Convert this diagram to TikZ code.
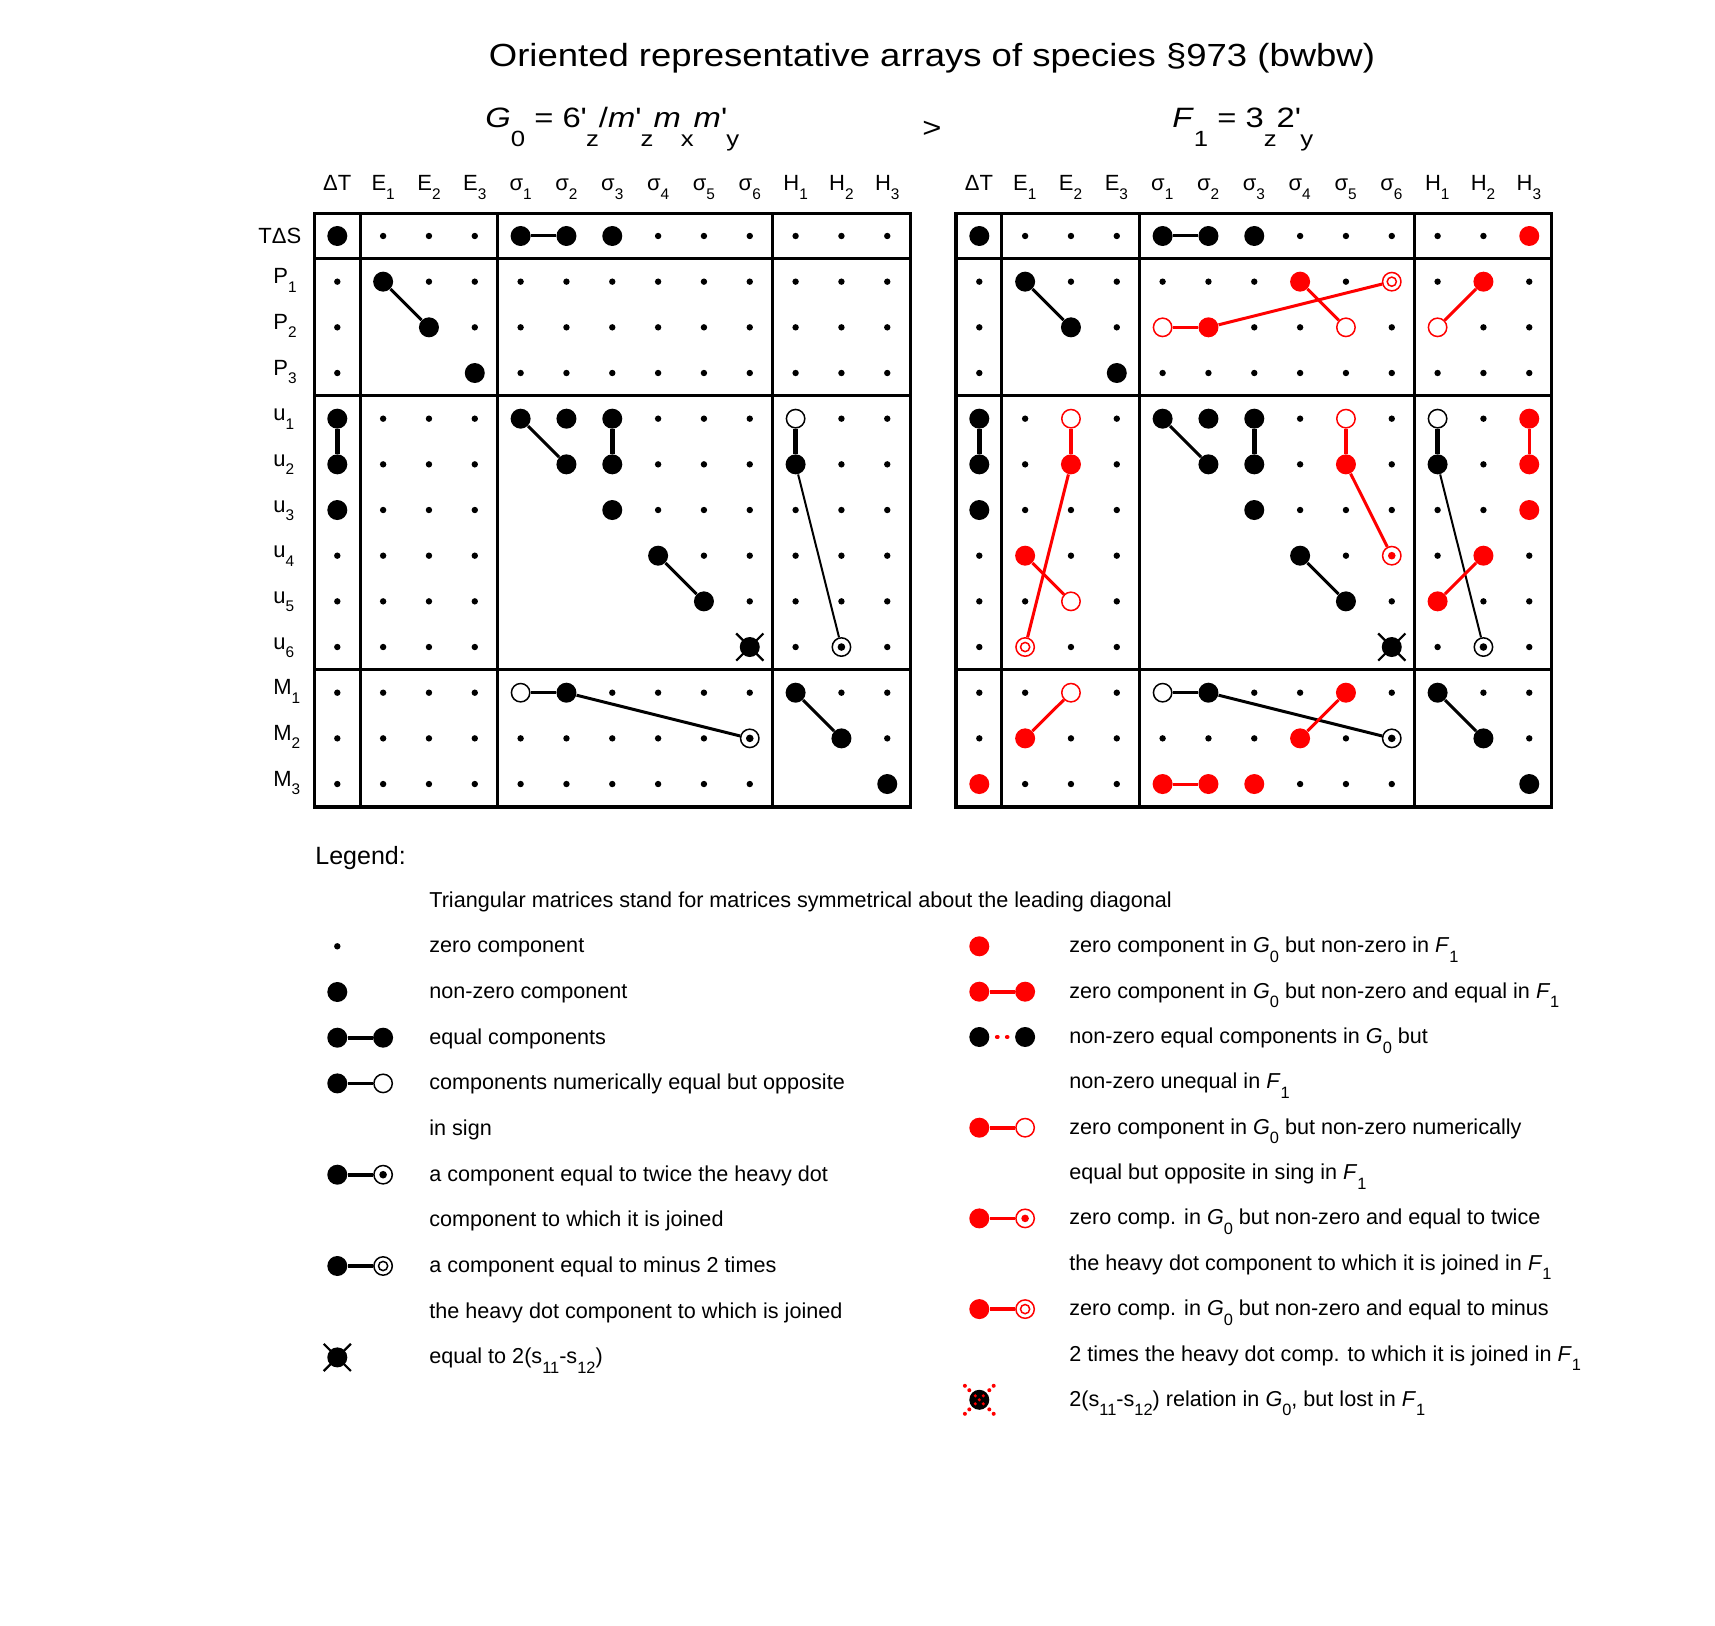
\documentclass[tikz,border=0pt]{standalone}
\usepackage{fontspec}
\setmainfont{Liberation Sans}
\newfontfamily\widefont[FakeStretch=1.14]{Liberation Sans}
\newfontfamily\subfont[FakeStretch=1.17]{Liberation Sans}
\newcommand\prm{{\XeTeXglyph\XeTeXcharglyph"27\relax}}
\newcommand\hsub[1]{\raisebox{-4.3pt}{\fontsize{7.7}{8}\selectfont #1}}
\newcommand\lsub[1]{\raisebox{-4.8pt}{\fontsize{8.2}{9}\selectfont #1}}
\newcommand\tsub[1]{\raisebox{-9.5pt}{\fontsize{11}{12}\selectfont #1}}
\tikzset{
  zd/.style={circle, fill=black, inner sep=0pt, minimum size=3.2pt},
  bd/.style={circle, fill=#1, inner sep=0pt, minimum size=10pt},
  bd/.default=black,
  od/.style={circle, draw=#1, fill=white, line width=0.75pt, inner sep=0pt, minimum size=9.2pt},
  od/.default=black,
  td/.style={od=#1, path picture={\fill[#1] (path picture bounding box.center) circle (1.9pt);}},
  td/.default=black,
  md/.style={od=#1, path picture={\draw[#1, line width=0.75pt] (path picture bounding box.center) circle (2.3pt);}},
  md/.default=black,
  nd/.style={inner sep=0pt, minimum size=10pt},
  mk-z/.style={zd}, mk-n/.style={nd}, mk-B/.style={bd}, mk-O/.style={od},
  mk-T/.style={td}, mk-X/.style={bd}, mk-r/.style={bd=red}, mk-q/.style={od=red},
  mk-t/.style={td=red}, mk-m/.style={md=red},
  gridline/.style={line width=1.6pt},
  cn/.style={line width=1.5pt},
  cnv/.style={line width=2.3pt},
  cnr/.style={red, line width=1.5pt},
  cnrv/.style={red, line width=1.7pt},
  cnt/.style={line width=1pt},
  lgl/.style={line width=1.8pt},
  hdr/.style={anchor=base, inner sep=0pt, font=\fontsize{11}{13}\selectfont},
  rlab/.style={anchor=base west, inner sep=0pt, font=\fontsize{11}{13}\selectfont},
  ltxt/.style={anchor=base west, inner sep=0pt, font=\fontsize{10.8}{13}\selectfont},
}
\begin{document}
\begin{tikzpicture}[x=0.5pt, y=-0.5pt]
\fill[white] (0,0) rectangle (1715,1626);
\useasboundingbox (0,0) rectangle (1715,1626);
% titles
\node[anchor=base, inner sep=0pt] (title) at (932,67) {\widefont\fontsize{16}{19}\selectfont Oriented representative arrays of species §973 (bwbw)};
\node[anchor=base west, inner sep=0pt] (g0) at (485,128) {\subfont\fontsize{14}{16}\selectfont \textit{G}\tsub{0} = 6\prm\tsub{z}/\textit{m}\prm\tsub{z}\textit{m}\tsub{x}\textit{m}\prm\tsub{y}};
\node[anchor=base, inner sep=0pt] (gt) at (932,138) {\subfont\fontsize{14}{16}\selectfont >};
\node[anchor=base west, inner sep=0pt] (f1) at (1172,128) {\subfont\fontsize{14}{16}\selectfont \textit{F}\tsub{1} = 3\tsub{z}2\prm\tsub{y}};
% grid frames
\foreach \xo in {314.4, 956.0} {
  \draw[gridline] (\xo,213.2) rectangle ({\xo+595.8},806.9);
  \foreach \k in {1,4,10} \draw[gridline] ({\xo+\k*45.83},213.2) -- ({\xo+\k*45.83},806.9);
  \foreach \y in {258.9,395.9,669.9} \draw[gridline] (\xo,\y) -- ({\xo+595.8},\y);
}
% column headers
\foreach \off in {0,14} {
  \foreach \lab [count=\c from 0] in {ΔT,E\hsub{1},E\hsub{2},E\hsub{3},σ\hsub{1},σ\hsub{2},σ\hsub{3},σ\hsub{4},σ\hsub{5},σ\hsub{6},H\hsub{1},H\hsub{2},H\hsub{3}}
    \node[hdr] (h-\off-\c) at ({337.3+(\off+\c)*45.83},190.7) {\lab};
}
% row labels
\node[anchor=base east, inner sep=0pt, font=\fontsize{11}{13}\selectfont] (rl0) at (301.7,243.5) {TΔS};
\foreach \lab [count=\r from 1] in {P\hsub{1},P\hsub{2},P\hsub{3},u\hsub{1},u\hsub{2},u\hsub{3},u\hsub{4},u\hsub{5},u\hsub{6},M\hsub{1},M\hsub{2},M\hsub{3}}
  \node[rlab] (rl\r) at (273,{238+\r*45.67}) {\lab};
% left grid G0
\foreach \row [count=\r from 0] in {
 {B,z,z,z,B,B,B,z,z,z,z,z,z},
 {z,B,z,z,z,z,z,z,z,z,z,z,z},
 {z,n,B,z,z,z,z,z,z,z,z,z,z},
 {z,n,n,B,z,z,z,z,z,z,z,z,z},
 {B,z,z,z,B,B,B,z,z,z,O,z,z},
 {B,z,z,z,n,B,B,z,z,z,B,z,z},
 {B,z,z,z,n,n,B,z,z,z,z,z,z},
 {z,z,z,z,n,n,n,B,z,z,z,z,z},
 {z,z,z,z,n,n,n,n,B,z,z,z,z},
 {z,z,z,z,n,n,n,n,n,X,z,T,z},
 {z,z,z,z,O,B,z,z,z,z,B,z,z},
 {z,z,z,z,z,z,z,z,z,T,n,B,z},
 {z,z,z,z,z,z,z,z,z,z,n,n,B}} {
  \foreach \code [count=\c from 0] in \row
    \node[mk-\code] (L-\r-\c) at ({337.3+\c*45.83},{236+\r*45.67}) {};
}
% right grid F1
\foreach \row [count=\r from 0] in {
 {B,z,z,z,B,B,B,z,z,z,z,z,r},
 {z,B,z,z,z,z,z,r,z,m,z,r,z},
 {z,n,B,z,q,r,z,z,q,z,q,z,z},
 {z,n,n,B,z,z,z,z,z,z,z,z,z},
 {B,z,q,z,B,B,B,z,q,z,O,z,r},
 {B,z,r,z,n,B,B,z,r,z,B,z,r},
 {B,z,z,z,n,n,B,z,z,z,z,z,r},
 {z,r,z,z,n,n,n,B,z,t,z,r,z},
 {z,z,q,z,n,n,n,n,B,z,r,z,z},
 {z,m,z,z,n,n,n,n,n,X,z,T,z},
 {z,z,q,z,O,B,z,z,r,z,B,z,z},
 {z,r,z,z,z,z,z,r,z,T,n,B,z},
 {r,z,z,z,r,r,r,z,z,z,n,n,B}} {
  \foreach \code [count=\c from 0] in \row
    \node[mk-\code] (R-\r-\c) at ({979.3+\c*45.83},{236+\r*45.67}) {};
}
% connectors left
\draw[cn] (L-0-4) -- (L-0-5);
\draw[cn] (L-1-1) -- (L-2-2);
\draw[cnv] (L-4-0) -- (L-5-0);
\draw[cn] (L-4-4) -- (L-5-5);
\draw[cnv] (L-4-6) -- (L-5-6);
\draw[cnv] (L-4-10) -- (L-5-10);
\draw[cnt] (L-5-10) -- (L-9-11);
\draw[cn] (L-7-7) -- (L-8-8);
\draw[cn] (L-10-4) -- (L-10-5);
\draw[cn] (L-10-5) -- (L-11-9);
\draw[cn] (L-10-10) -- (L-11-11);
% connectors right
\draw[cn] (R-0-4) -- (R-0-5);
\draw[cn] (R-1-1) -- (R-2-2);
\draw[cnr] (R-2-4) -- (R-2-5);
\draw[cnr] (R-2-5) -- (R-1-9);
\draw[cnr] (R-1-7) -- (R-2-8);
\draw[cnr] (R-1-11) -- (R-2-10);
\draw[cnv] (R-4-0) -- (R-5-0);
\draw[cnrv] (R-4-2) -- (R-5-2);
\draw[cnr] (R-5-2) -- (R-9-1);
\draw[cnr] (R-7-1) -- (R-8-2);
\draw[cn] (R-4-4) -- (R-5-5);
\draw[cnv] (R-4-6) -- (R-5-6);
\draw[cnrv] (R-4-8) -- (R-5-8);
\draw[cnr] (R-5-8) -- (R-7-9);
\draw[cn] (R-7-7) -- (R-8-8);
\draw[cnv] (R-4-10) -- (R-5-10);
\draw[cnt] (R-5-10) -- (R-9-11);
\draw[cnrv] (R-4-12) -- (R-5-12);
\draw[cnr] (R-7-11) -- (R-8-10);
\draw[cnr] (R-10-2) -- (R-11-1);
\draw[cn] (R-10-4) -- (R-10-5);
\draw[cn] (R-10-5) -- (R-11-9);
\draw[cnr] (R-10-8) -- (R-11-7);
\draw[cn] (R-10-10) -- (R-11-11);
\draw[cnr] (R-12-4) -- (R-12-5);
% legend
\node[anchor=base west, inner sep=0pt, font=\fontsize{12.5}{15}\selectfont] (lgtitle) at (315,864) {Legend:};
\node[ltxt] (lt1) at (429,907.2) {Triangular matrices stand for matrices symmetrical about the leading diagonal};
\node[ltxt] (lt2) at (429,952.8) {zero component};
\node[ltxt] (lt3) at (429,998.5) {non-zero component};
\node[ltxt] (lt4) at (429,1044.2) {equal components};
\node[ltxt] (lt5) at (429,1089.9) {components numerically equal but opposite};
\node[ltxt] (lt6) at (429,1135.5) {in sign};
\node[ltxt] (lt7) at (429,1181.2) {a component equal to twice the heavy dot};
\node[ltxt] (lt8) at (429,1226.9) {component to which it is joined};
\node[ltxt] (lt9) at (429,1272.5) {a component equal to minus 2 times};
\node[ltxt] (lt10) at (429,1318.2) {the heavy dot component to which is joined};
\node[ltxt] (lt11) at (429,1363.9) {equal to 2(s\lsub{11}-s\lsub{12})};
\node[ltxt] (rt2) at (1069,952.8) {zero component in \textit{G}\lsub{0} but non-zero in \textit{F}\lsub{1}};
\node[ltxt] (rt3) at (1069,998.2) {zero component in \textit{G}\lsub{0} but non-zero and equal in \textit{F}\lsub{1}};
\node[ltxt] (rt4) at (1069,1043.5) {non-zero equal components in \textit{G}\lsub{0} but};
\node[ltxt] (rt5) at (1069,1088.9) {non-zero unequal in \textit{F}\lsub{1}};
\node[ltxt] (rt6) at (1069,1134.2) {zero component in \textit{G}\lsub{0} but non-zero numerically};
\node[ltxt] (rt7) at (1069,1179.6) {equal but opposite in sing in \textit{F}\lsub{1}};
\node[ltxt] (rt8) at (1069,1224.9) {zero comp. in \textit{G}\lsub{0} but non-zero and equal to twice};
\node[ltxt] (rt9) at (1069,1270.3) {the heavy dot component to which it is joined in \textit{F}\lsub{1}};
\node[ltxt] (rt10) at (1069,1315.6) {zero comp. in \textit{G}\lsub{0} but non-zero and equal to minus};
\node[ltxt] (rt11) at (1069,1361.0) {2 times the heavy dot comp. to which it is joined in \textit{F}\lsub{1}};
\node[ltxt] (rt12) at (1069,1406.3) {2(s\lsub{11}-s\lsub{12}) relation in \textit{G}\lsub{0}, but lost in \textit{F}\lsub{1}};
% legend symbols left
\node[zd] (la2) at (337.3,946.3) {};
\node[bd] (la3) at (337.3,992.0) {};
\node[bd] (la4) at (337.3,1037.7) {};
\node[bd] (lb4) at (383.1,1037.7) {};
\node[bd] (la5) at (337.3,1083.4) {};
\node[od] (lb5) at (383.1,1083.4) {};
\node[bd] (la7) at (337.3,1174.7) {};
\node[td] (lb7) at (383.1,1174.7) {};
\node[bd] (la9) at (337.3,1266.0) {};
\node[md] (lb9) at (383.1,1266.0) {};
\node[bd] (lgX) at (337.3,1357.4) {};
\draw[lgl] (la4) -- (lb4);
\draw[lgl] (la5) -- (lb5);
\draw[lgl] (la7) -- (lb7);
\draw[lgl] (la9) -- (lb9);
% legend symbols right
\node[bd=red] (ra2) at (979.3,946.3) {};
\node[bd=red] (ra3) at (979.3,991.7) {};
\node[bd=red] (rb3) at (1025.1,991.7) {};
\node[bd] (ra4) at (979.3,1037.0) {};
\node[bd] (rb4) at (1025.1,1037.0) {};
\node[bd=red] (ra6) at (979.3,1127.7) {};
\node[od=red] (rb6) at (1025.1,1127.7) {};
\node[bd=red] (ra8) at (979.3,1218.4) {};
\node[td=red] (rb8) at (1025.1,1218.4) {};
\node[bd=red] (ra10) at (979.3,1309.1) {};
\node[md=red] (rb10) at (1025.1,1309.1) {};
\node[bd] (rX) at (979.3,1399.8) {};
\draw[lgl, red] (ra3) -- (rb3);
\draw[red, line width=2pt, line cap=round, dash pattern=on 0.4pt off 4.6pt, shorten <=3.6pt, shorten >=3.6pt] (ra4) -- (rb4);
\draw[lgl, red] (ra6) -- (rb6);
\draw[lgl, red] (ra8) -- (rb8);
\draw[lgl, red] (ra10) -- (rb10);
% cross marks
\foreach \n in {L-9-9, R-9-9, lgX}
  \draw[line width=1.1pt] (\n.center) +(-6.8pt,-6.8pt) -- +(6.8pt,6.8pt) +(-6.8pt,6.8pt) -- +(6.8pt,-6.8pt);
\foreach \dx/\dy in {0/0, 2/2, -2/2, 2/-2, -2/-2}
  \fill[red] (rX.center) +(\dx pt,\dy pt) circle (0.85pt);
\foreach \sx in {1,-1} \foreach \sy in {1,-1}
  \fill[red] (rX.center) +({\sx*5pt},{\sy*4.8pt}) circle (1pt) +({\sx*7.2pt},{\sy*7pt}) circle (1pt);
\end{tikzpicture}
\end{document}
